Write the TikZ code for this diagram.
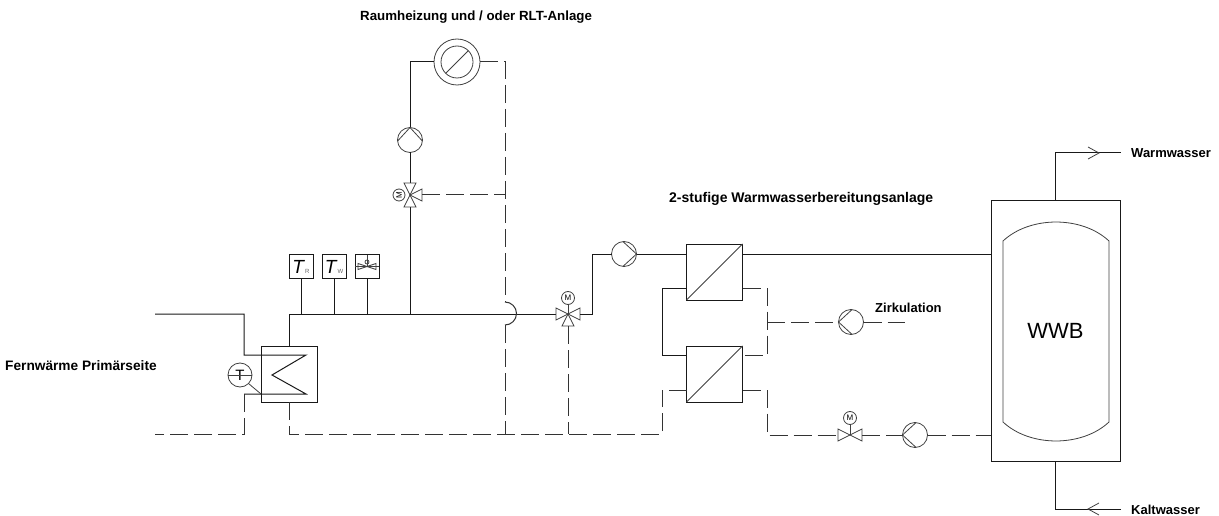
\documentclass[tikz,border=0pt]{standalone}
\usepackage{fontspec}
\setmainfont{Liberation Sans}
\usetikzlibrary{positioning}
\tikzstyle{pipe} = [line width=1pt, black!90]
\tikzstyle{rpipe} = [pipe, dash pattern=on 18pt off 6pt, black!80]
\tikzstyle{symbol} = [line width=0.8pt, black!75]
\tikzstyle{hxbox} = [rectangle, minimum width=56pt, minimum height=56pt, inner sep=0pt, outer sep=0pt, draw=black!90, line width=1pt]
\tikzstyle{sensor} = [rectangle, minimum width=24pt, minimum height=24pt, inner sep=0pt, outer sep=0pt, draw=black!90, line width=1pt]
\tikzstyle{pump} = [circle, minimum size=25pt, inner sep=0pt, outer sep=0pt, draw=black!75, line width=0.8pt]
\tikzstyle{valve} = [circle, minimum size=24pt, inner sep=0pt, outer sep=0pt]
\tikzstyle{motor} = [circle, minimum size=13pt, inner sep=0pt, outer sep=0pt, draw=black!75, line width=0.8pt, font=\fontsize{8}{9}\selectfont]
\tikzstyle{lbl} = [anchor=west, inner sep=0pt, font=\bfseries\fontsize{13}{15}\selectfont]
\newcommand{\pumpmark}[2]{\draw [symbol] ([shift={(#2+95:12.5pt)}]#1.center) -- ([shift={(#2:12.5pt)}]#1.center) -- ([shift={(#2-95:12.5pt)}]#1.center);}
\newcommand{\valvearm}[2]{\draw [symbol] (#1.center) -- ([shift={(#2+26.5:13.4pt)}]#1.center) -- ([shift={(#2-26.5:13.4pt)}]#1.center) -- cycle;}

\begin{document}
\begin{tikzpicture}[x=1pt,y=-1pt,node distance=33pt]
	\useasboundingbox (0,0) rectangle (1219,516);

	\node (hx) [hxbox] at (289,374) {};
	\node (tsens) [circle, minimum size=24pt, inner sep=0pt, outer sep=0pt, draw=black!75, line width=0.8pt, font=\fontsize{15}{15}\selectfont] at (240,375) {T};
	\node (sr) [sensor] at (301,266.5) {\textit{\fontsize{19}{19}\selectfont T}{\fontsize{6}{6}\selectfont\color{black!60}R}};
	\node (sw) [sensor, right of=sr] {\textit{\fontsize{19}{19}\selectfont T}{\fontsize{6}{6}\selectfont\color{black!60}W}};
	\node (srg) [sensor, right of=sw] {};

	\node (heater) [circle, minimum size=46pt, inner sep=0pt, outer sep=0pt, draw=black!75, line width=0.8pt] at (457,62) {};
	\node (heaterin) [circle, minimum size=32pt, inner sep=0pt, outer sep=0pt, draw=black!75, line width=0.8pt] at (457,62) {};
	\node (pheat) [pump] at (410,140) {};
	\node (vheat) [valve] at (410,195) {};
	\node (mheat) [motor, minimum size=12pt, left=5pt of vheat.center] {\rotatebox{90}{M}};

	\node (vmain) [valve] at (568,314) {};
	\node (mmain) [motor] at (568,298) {M};
	\node (pdhw) [pump] at (624,254) {};
	\node (sta) [hxbox] at (714.5,272) {};
	\node (stb) [hxbox, below of=sta, node distance=102pt] {};
	\node (pzirk) [pump] at (851,322) {};
	\node (vdhw) [valve] at (850,435) {};
	\node (mdhw) [motor] at (850,418) {M};
	\node (pret) [pump] at (915,435) {};
	\node (tank) [rectangle, minimum width=129pt, minimum height=260pt, inner sep=0pt, outer sep=0pt, draw=black!90, line width=1pt, font=\fontsize{22}{24}\selectfont] at (1055.5,331) {WWB};

	\node (ltop) [lbl, font=\bfseries\fontsize{13.3}{15}\selectfont] at (360,17) {Raumheizung und / oder RLT-Anlage};
	\node (lstufe) [lbl, font=\bfseries\fontsize{14}{15}\selectfont] at (669,199) {2-stufige Warmwasserbereitungsanlage};
	\node (lfern) [lbl, font=\bfseries\fontsize{13.7}{15}\selectfont] at (5,366) {Fernwärme Primärseite};
	\node (lzirk) [lbl] at (875,308) {Zirkulation};
	\node (lwarm) [lbl] at (1131,153) {Warmwasser};
	\node (lkalt) [lbl] at (1131,510) {Kaltwasser};

	\coordinate (fwin) at (155,314);
	\coordinate (fwout) at (155,434);
	\coordinate (hxa) at (244,355);
	\coordinate (hxb) at (306,355);
	\coordinate (hxc) at (272,375);
	\coordinate (hxd) at (306,394);
	\coordinate (hxe) at (244,394);
	\coordinate (tap) at (410,314);
	\coordinate (bra) at (505,302);
	\coordinate (brb) at (505,325);
	\coordinate (retb) at (662,434);
	\coordinate (rise) at (592,254);
	\coordinate (linka) at (662,288);
	\coordinate (linkb) at (662,355);
	\coordinate (dasha) at (767,288);
	\coordinate (dashb) at (767,355);
	\coordinate (dashc) at (767,390);
	\coordinate (zend) at (905,322);
	\coordinate (warm) at (1121,153);
	\coordinate (warmtip) at (1099,153);
	\coordinate (kalt) at (1121,509);
	\coordinate (kalttip) at (1088,509);

	\draw [pipe] (fwin) -| (hxa) -- (hxb) -- (hxc) -- (hxd) -- (hxe);
	\draw [rpipe] (hxe) |- (fwout);
	\draw [pipe] (hx.north) |- (vmain.west);
	\draw [rpipe] (hx.south) |- (retb) |- (stb.west |- dashc);
	\draw [symbol] (tsens.west) -- (tsens.east);
	\draw [symbol] (tsens.-45) -- (hx.west |- hxe);

	\draw [pipe] (sr.south) -- (sr.south |- tap);
	\draw [pipe] (sw.south) -- (sw.south |- tap);
	\draw [pipe] (srg.south) -- (srg.south |- tap);
	\draw [symbol] (srg.west) -- (srg.east);
	\draw [symbol] ([shift={(-9,-3)}]srg.center) -- ([shift={(-9,3)}]srg.center) -- ([shift={(9,-3)}]srg.center) -- ([shift={(9,3)}]srg.center) -- cycle;
	\draw [symbol] (srg.north) -- (srg.center);
	\draw [symbol] ([shift={(0,-4.5)}]srg.center) circle (2pt);

	\draw [pipe] (tap) -- (vheat.south);
	\draw [pipe] (vheat.north) -- (pheat.south);
	\draw [pipe] (pheat.north) |- (heater.west);
	\draw [rpipe] (heater.east) -| (bra);
	\draw [rpipe] (vheat.east) -- (vheat.east -| bra);
	\draw [symbol] (heaterin.-135) -- (heaterin.45);
	\pumpmark{pheat}{90}
	\valvearm{vheat}{90}
	\valvearm{vheat}{0}
	\valvearm{vheat}{-90}

	\draw [rpipe, dash pattern=] (bra) arc (90:-90:11.5pt);
	\draw [rpipe] (brb) -- (brb |- retb);

	\valvearm{vmain}{180}
	\valvearm{vmain}{0}
	\valvearm{vmain}{-90}
	\draw [symbol] (mmain.south) -- (vmain.center);
	\draw [rpipe] (vmain.south) -- (vmain.south |- retb);
	\draw [pipe] (vmain.east) -| (rise) -- (pdhw.west);
	\pumpmark{pdhw}{0}
	\draw [pipe] (pdhw.east) -- (pdhw.east -| sta.west);
	\draw [pipe] (sta.east |- pdhw) -- (tank.west |- pdhw);
	\draw [symbol] (sta.south west) -- (sta.north east);
	\draw [symbol] (stb.south west) -- (stb.north east);
	\draw [pipe] (linka -| sta.west) -- (linka) -- (linkb) -- (linkb -| stb.west);
	\draw [rpipe] (dasha -| sta.east) -- (dasha) -- (dashb) -- (dashb -| stb.east);
	\draw [rpipe] (dasha |- pzirk) -- (pzirk.west);
	\draw [rpipe] (pzirk.east) -- (zend);
	\pumpmark{pzirk}{180}

	\draw [rpipe] (dashc -| stb.east) -- (dashc) |- (vdhw.west);
	\draw [rpipe] (vdhw.east) -- (pret.west);
	\draw [rpipe] (pret.east) -- (pret.east -| tank.west);
	\valvearm{vdhw}{180}
	\valvearm{vdhw}{0}
	\draw [symbol] (mdhw.south) -- (vdhw.center);
	\pumpmark{pret}{180}

	\draw [symbol] (1003,241) .. controls (1030,215.7) and (1082,215.7) .. (1109,241) -- (1109,422) .. controls (1082,447.3) and (1030,447.3) .. (1003,422) -- cycle;
	\draw [pipe] (tank.north) |- (warm);
	\draw [pipe] (tank.south) |- (kalt);
	\draw [symbol] ([shift={(-11,-6)}]warmtip) -- (warmtip) -- ([shift={(-11,6)}]warmtip);
	\draw [symbol] ([shift={(11,-6)}]kalttip) -- (kalttip) -- ([shift={(11,6)}]kalttip);

\end{tikzpicture}
\end{document}
